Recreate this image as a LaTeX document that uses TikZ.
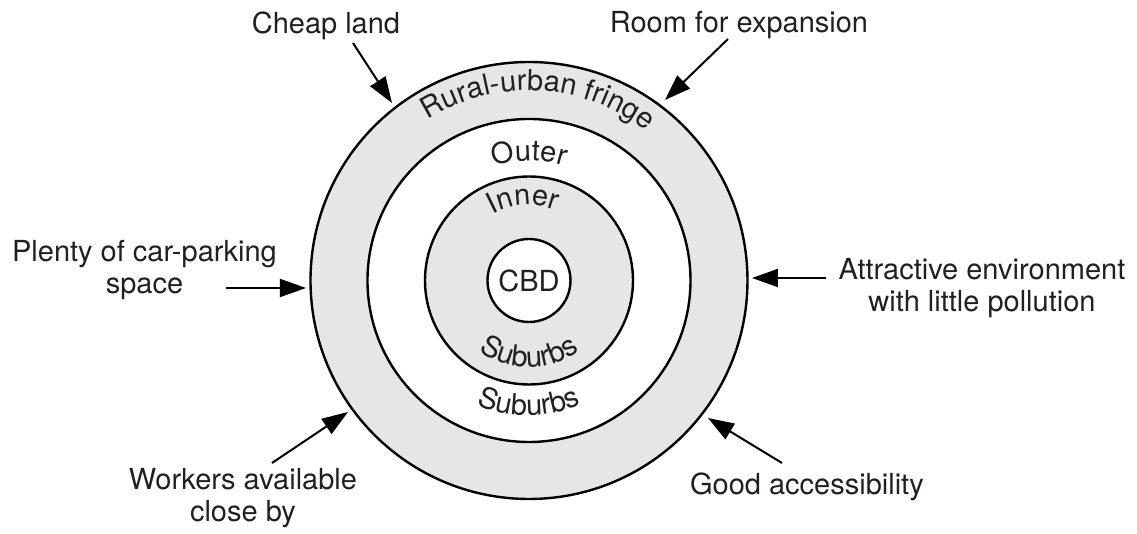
\documentclass[tikz,border=0pt]{standalone}
\usepackage{fontspec}
\setmainfont{TeX Gyre Heros}
\usetikzlibrary{arrows.meta,decorations.text}
\definecolor{txt}{RGB}{35,31,32}
\definecolor{ring}{RGB}{230,230,230}
\newcommand{\twolines}[2]{\begin{tabular}[t]{@{}c@{}}#1\\#2\end{tabular}}
\begin{document}
\begin{tikzpicture}[x=0.5pt,y=0.5pt,
  lab/.style={font=\fontsize{14.5}{16}\selectfont, text=txt, inner sep=0pt},
  ptr/.style={-{Triangle[length=13pt,width=9pt]}, line width=1pt, draw=black},
  zone/.style={draw=black, line width=1.2pt},
  curv/.style={decorate, decoration={text along path, text align=center, text={|\fontsize{14.5}{16}\selectfont\color{txt}|#1}}}
]
\useasboundingbox (-529,-253.5) rectangle (608,280.5);
% rings
\draw[zone, fill=ring] (0,0) circle[radius=218.5];
\draw[zone, fill=white] (0,0) circle[radius=161.5];
\draw[zone, fill=ring] (0,0) circle[radius=104];
\node[zone, circle, fill=white, minimum size=41.5pt, inner sep=0pt, font=\fontsize{14.5}{16}\selectfont, text=txt] (cbd) at (0,0) {CBD};
% curved zone labels
\path[curv={Rural-urban fringe}] (147:190) arc[start angle=147, end angle=27, radius=190];
\path[curv={Outer}] (140:120) arc[start angle=140, end angle=40, radius=120];
\path[curv={Inner}] (144:75.5) arc[start angle=144, end angle=44, radius=75.5];
\path[curv={Suburbs}] (210:86.5) arc[start angle=210, end angle=330, radius=86.5];
\path[curv={Suburbs}] (220:135) arc[start angle=220, end angle=320, radius=135];
% outside labels
\node[lab, anchor=base] (cheap) at (-203,246.5) {Cheap land};
\node[lab, anchor=base] (room) at (210,247.5) {Room for expansion};
\node[lab, anchor=base] (plenty) at (-384.5,18.5) {\twolines{Plenty of car-parking}{space}};
\node[lab, anchor=base] (attr) at (453,0.5) {\twolines{Attractive environment}{with little pollution}};
\node[lab, anchor=base] (work) at (-286,-209.5) {\twolines{Workers available}{close by}};
\node[lab, anchor=base] (good) at (278,-214.5) {Good accessibility};
% arrow ends
\coordinate (cheapS) at (-176,237.5); \coordinate (cheapE) at (-137,177.5);
\coordinate (roomS) at (199,241.5);   \coordinate (roomE) at (136,180.5);
\coordinate (plentyS) at (-303,-7.5); \coordinate (plentyE) at (-223,-7.5);
\coordinate (attrS) at (297,2.5);     \coordinate (attrE) at (223,2.5);
\coordinate (workS) at (-257,-182.5); \coordinate (workE) at (-181,-131.5);
\coordinate (goodS) at (253,-182.5);  \coordinate (goodE) at (179,-137.5);
\draw[ptr] (cheapS) -- (cheapE);
\draw[ptr] (roomS) -- (roomE);
\draw[ptr] (plentyS) -- (plentyE);
\draw[ptr] (attrS) -- (attrE);
\draw[ptr] (workS) -- (workE);
\draw[ptr] (goodS) -- (goodE);
\end{tikzpicture}
\end{document}
